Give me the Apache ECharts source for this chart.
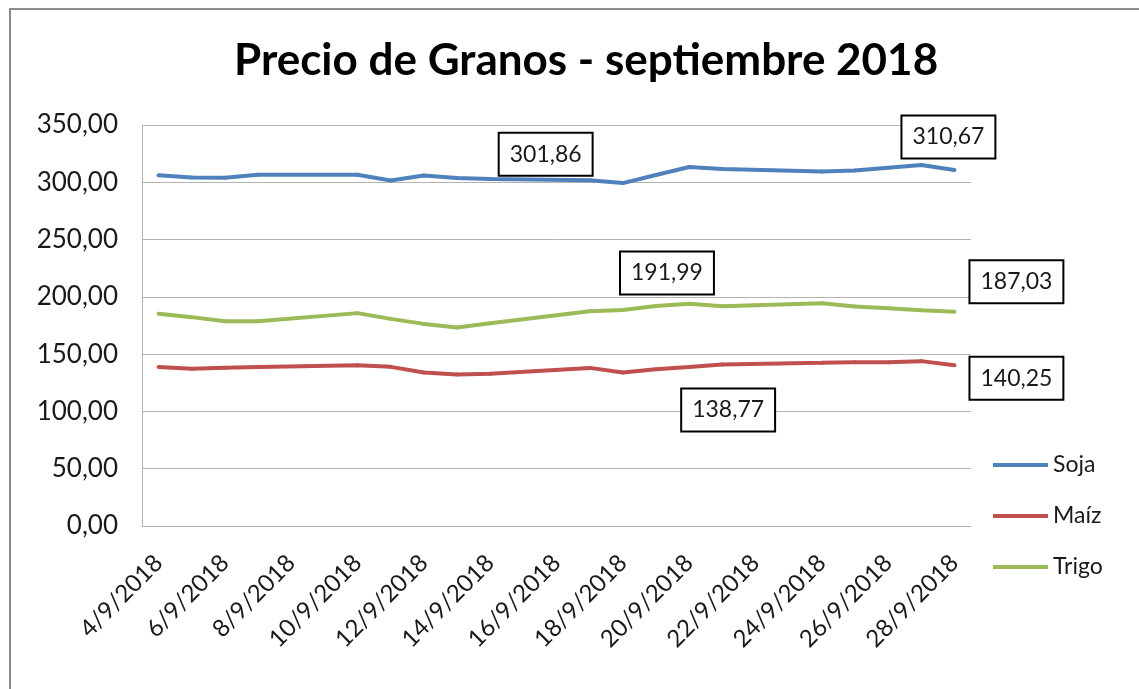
<!DOCTYPE html>
<html>
<head>
<meta charset="utf-8">
<script src="https://cdn.jsdelivr.net/npm/echarts@6/dist/echarts.min.js"></script>
<style>
html, body { margin: 0; padding: 0; background: #fff; }
#granos { width: 1139px; height: 689px; }
</style>
</head>
<body>
<div id="granos"></div>
<script>
// dias habiles de septiembre 2018 (los findes no tienen dato)
var fechas = ['4/9/2018', '5/9/2018', '6/9/2018', '7/9/2018', '10/9/2018', '11/9/2018', '12/9/2018',
    '13/9/2018', '14/9/2018', '17/9/2018', '18/9/2018', '19/9/2018', '20/9/2018', '21/9/2018',
    '24/9/2018', '25/9/2018', '26/9/2018', '27/9/2018', '28/9/2018'];

var soja = [306.1, 304.2, 303.9, 306.5, 306.5, 301.6, 306.0, 303.7, 302.8, 301.86,
    299.3, 306.3, 313.3, 311.5, 309.4, 310.3, 312.7, 315.0, 310.67];
var maiz = [138.7, 137.2, 138.1, 138.7, 140.4, 138.9, 134.0, 132.3, 132.8, 138.0,
    134.0, 136.9, 138.77, 141.0, 142.4, 143.0, 143.0, 143.9, 140.25];
var trigo = [185.2, 182.3, 178.8, 178.8, 185.8, 180.8, 176.4, 173.2, 177.0, 187.4,
    188.6, 191.99, 193.9, 191.9, 194.5, 191.6, 190.1, 188.4, 187.03];

var etiquetasEje = ['4/9/2018', '6/9/2018', '8/9/2018', '10/9/2018', '12/9/2018', '14/9/2018',
    '16/9/2018', '18/9/2018', '20/9/2018', '22/9/2018', '24/9/2018', '26/9/2018', '28/9/2018'];

var myChart = echarts.init(document.getElementById('granos'));

var fuente = 'Lato';
var gris = '#b3b3b3';

function dia(f) {
    return parseInt(f.split('/')[0], 10);
}
function coma(v) {
    return v.toFixed(2).replace('.', ',');
}

// que puntos llevan la cajita con el valor (indice -> corrimiento de la caja)
var cajasSoja = { 9: [-44, -26], 18: [-6, -33] };
var cajasMaiz = { 12: [39, 43], 18: [62, 13] };
var cajasTrigo = { 11: [11, -33], 18: [62, -30] };

function armar(valores, cajas) {
    var res = [];
    for (var i = 0; i < valores.length; i++) {
        var p = { value: [dia(fechas[i]), valores[i]] };
        if (cajas[i]) {
            p.label = { show: true, offset: cajas[i] };
        }
        res.push(p);
    }
    return res;
}

function serie(nombre, color, valores, cajas) {
    return {
        name: nombre,
        type: 'line',
        data: armar(valores, cajas),
        showSymbol: true,
        symbol: 'circle',
        symbolSize: 4,
        itemStyle: { color: color },
        lineStyle: { color: color, width: 4 },
        emphasis: { disabled: true },
        label: {
            show: false,
            position: 'inside',
            formatter: function (p) { return coma(p.value[1]); },
            fontFamily: fuente,
            fontSize: 23,
            lineHeight: 27,
            color: '#1a1a1a',
            backgroundColor: '#fff',
            borderColor: '#000',
            borderWidth: 2,
            padding: [7, 10, 7, 10]
        }
    };
}

option = {
    backgroundColor: '#fff',
    animation: false,
    title: {
        text: 'Precio de Granos - septiembre 2018',
        left: 229,
        top: 34,
        textStyle: {
            fontFamily: fuente,
            fontWeight: 'bold',
            fontSize: 44,
            color: '#000'
        }
    },
    graphic: [{
        type: 'rect',
        shape: { x: 10, y: 9, width: 1200, height: 800 },
        style: { fill: 'none', stroke: '#8c8c8c', lineWidth: 2 },
        silent: true
    }],
    grid: { left: 142, right: 168, top: 125, bottom: 163 },
    legend: {
        orient: 'vertical',
        left: 993,
        top: 453,
        padding: 0,
        icon: 'rect',
        itemWidth: 55,
        itemHeight: 4,
        itemGap: 27,
        data: ['Soja', 'Maíz', 'Trigo'],
        textStyle: { fontFamily: fuente, fontSize: 23, lineHeight: 24, color: '#1a1a1a' }
    },
    xAxis: {
        type: 'value',
        min: 3.5,
        max: 28.5,
        splitLine: { show: false },
        axisTick: { show: false },
        axisLine: { show: true, lineStyle: { color: gris, width: 1 } },
        axisLabel: {
            customValues: etiquetasEje.map(dia),
            rotate: 45,
            margin: 33,
            formatter: function (v) {
                for (var i = 0; i < etiquetasEje.length; i++) {
                    if (dia(etiquetasEje[i]) === v) return etiquetasEje[i];
                }
                return '';
            },
            fontFamily: fuente,
            fontSize: 24,
            color: '#1a1a1a'
        }
    },
    yAxis: {
        type: 'value',
        min: 0,
        max: 350,
        interval: 50,
        axisLine: { show: true, lineStyle: { color: gris, width: 1 } },
        axisTick: { show: false },
        splitLine: { lineStyle: { color: gris, width: 1 } },
        axisLabel: {
            formatter: coma,
            margin: 24,
            fontFamily: fuente,
            fontSize: 26,
            color: '#1a1a1a'
        }
    },
    series: [
        serie('Soja', '#4f81bd', soja, cajasSoja),
        serie('Maíz', '#c0504d', maiz, cajasMaiz),
        serie('Trigo', '#9bbb59', trigo, cajasTrigo)
    ]
};

myChart.setOption(option);
</script>
</body>
</html>
